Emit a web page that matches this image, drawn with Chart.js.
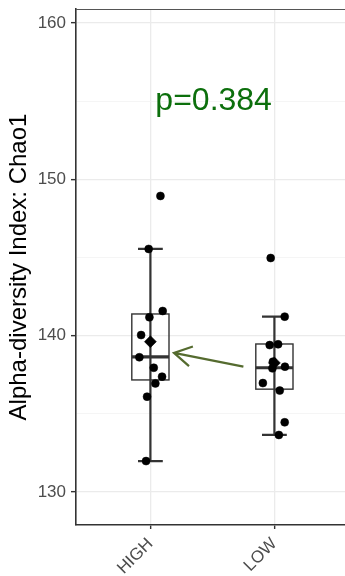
<!DOCTYPE html>
<html><head><meta charset="utf-8">
<script src="https://cdn.jsdelivr.net/npm/chart.js@4/dist/chart.umd.min.js"></script>
<style>html,body{margin:0;padding:0;background:#fff;overflow:hidden}#wrap{width:345px;height:576px;position:relative}</style>
</head><body><div id="wrap"><canvas id="c" width="345" height="576"></canvas></div>
<script>
// ---- data ----
const categories = ['HIGH', 'LOW'];
const highX = [1.081, 0.986, 1.099, 0.992, 0.925, 0.911, 1.027, 1.094, 1.040, 0.973, 0.965];
const highY = [148.94, 145.55, 141.58, 141.18, 140.04, 138.62, 137.95, 137.38, 136.95, 136.10, 131.98];
const lowX = [1.970, 2.083, 2.030, 1.962, 1.988, 2.085, 1.984, 1.907, 2.043, 2.083, 2.036];
const lowY = [144.97, 141.22, 139.45, 139.40, 138.34, 138.02, 137.91, 136.97, 136.49, 134.46, 133.65];
const boxQ1 = [137.17, 136.58];
const boxMedian = [138.64, 137.95];
const boxQ3 = [141.39, 139.47];
const whiskerLow = [131.98, 133.65];
const whiskerHigh = [145.55, 141.22];
const groupMeans = [139.62, 138.26];
const yTicks = [130, 135, 140, 145, 150, 155, 160];
const yMajor = [130, 140, 150, 160];
const arrowFrom = [1.75, 138.02];
const arrowTo = [1.19, 138.90];
const pLabel = 'p=0.384';
const pLabelPos = [1.51, 155];
const yTitle = 'Alpha-diversity Index: Chao1';

const FONT = '"Liberation Sans", Arial, Helvetica, sans-serif';
const toPts = (xs, ys) => xs.map((x, i) => ({x, y: ys[i]}));

const boxPlugin = {
  id: 'boxes',
  beforeDatasetsDraw(chart) {
    const {ctx, scales: {x, y}, chartArea} = chart;
    ctx.save();
    // top panel border
    ctx.strokeStyle = '#555';
    ctx.lineWidth = 1.2;
    ctx.beginPath();
    ctx.moveTo(chartArea.left, chartArea.top + 0.5);
    ctx.lineTo(chartArea.right, chartArea.top + 0.5);
    ctx.stroke();
    categories.forEach((c, i) => {
      const cx = x.getPixelForValue(i + 1);
      const bw = x.getPixelForValue(i + 1 + 0.15) - cx;
      const cw = x.getPixelForValue(i + 1 + 0.1) - cx;
      const q1 = y.getPixelForValue(boxQ1[i]);
      const q3 = y.getPixelForValue(boxQ3[i]);
      const md = y.getPixelForValue(boxMedian[i]);
      const wl = y.getPixelForValue(whiskerLow[i]);
      const wh = y.getPixelForValue(whiskerHigh[i]);
      ctx.strokeStyle = '#333';
      ctx.lineWidth = 1.4;
      ctx.strokeRect(cx - bw, q3, 2 * bw, q1 - q3);
      ctx.lineWidth = 2.2;
      ctx.beginPath();
      ctx.moveTo(cx, wl); ctx.lineTo(cx, wh);
      ctx.moveTo(cx - cw, wl); ctx.lineTo(cx + cw, wl);
      ctx.moveTo(cx - cw, wh); ctx.lineTo(cx + cw, wh);
      ctx.stroke();
      ctx.lineWidth = 3.2;
      ctx.beginPath();
      ctx.moveTo(cx - bw, md); ctx.lineTo(cx + bw, md);
      ctx.stroke();
    });
    ctx.restore();
  },
  afterDatasetsDraw(chart) {
    const {ctx, scales: {x, y}} = chart;
    ctx.save();
    // arrow
    const x0 = x.getPixelForValue(arrowFrom[0]), y0 = y.getPixelForValue(arrowFrom[1]);
    const x1 = x.getPixelForValue(arrowTo[0]), y1 = y.getPixelForValue(arrowTo[1]);
    ctx.strokeStyle = '#556B2F';
    ctx.lineWidth = 2.2;
    ctx.lineCap = 'butt';
    ctx.beginPath();
    ctx.moveTo(x0, y0); ctx.lineTo(x1, y1);
    const ang = Math.atan2(y0 - y1, x0 - x1);
    const L = 20, a = Math.PI / 6;
    ctx.moveTo(x1 + L * Math.cos(ang - a), y1 + L * Math.sin(ang - a));
    ctx.lineTo(x1, y1);
    ctx.lineTo(x1 + L * Math.cos(ang + a), y1 + L * Math.sin(ang + a));
    ctx.stroke();
    // p-value text
    ctx.fillStyle = '#0c6f0c';
    ctx.font = '32px ' + FONT;
    ctx.textAlign = 'center';
    ctx.textBaseline = 'middle';
    ctx.fillText(pLabel, x.getPixelForValue(pLabelPos[0]), y.getPixelForValue(pLabelPos[1]));
    ctx.restore();
  }
};

new Chart(document.getElementById('c'), {
  type: 'scatter',
  data: {
    datasets: [
      {label: 'mean', data: groupMeans.map((m, i) => ({x: i + 1, y: m})),
        pointStyle: 'rectRot', pointRadius: 6, backgroundColor: '#000', borderColor: '#000', borderWidth: 0.5},
      {label: 'HIGH', data: toPts(highX, highY), pointRadius: 4, backgroundColor: '#000', borderColor: '#000', borderWidth: 0.5},
      {label: 'LOW', data: toPts(lowX, lowY), pointRadius: 4, backgroundColor: '#000', borderColor: '#000', borderWidth: 0.5}
    ]
  },
  options: {
    responsive: false,
    animation: false,
    devicePixelRatio: 1,
    layout: {autoPadding: false, padding: {top: 9, right: 0, bottom: 0, left: 0}},
    plugins: {legend: {display: false}, tooltip: {enabled: false}},
    scales: {
      x: {
        type: 'linear', min: 0.4, max: 0.4 + (345 - 76) / 124,
        afterBuildTicks: s => { s.ticks = categories.map((c, i) => ({value: i + 1})); },
        afterFit: s => { s.height = 51; s.paddingLeft = 0; s.paddingRight = 0; s.paddingTop = 0; s.paddingBottom = 0; },
        ticks: {
          callback: v => categories[v - 1] || '',
          minRotation: 45, maxRotation: 45, autoSkip: false,
          color: '#4D4D4D', font: {family: FONT, size: 17}, padding: 5
        },
        grid: {color: '#EBEBEB', lineWidth: 1.3, tickColor: '#333', tickLength: 4, tickWidth: 1.4},
        border: {color: '#333', width: 1.6}
      },
      y: {
        type: 'linear', min: 127.89, max: 160.9,
        afterBuildTicks: s => { s.ticks = yTicks.map(v => ({value: v})); },
        afterFit: s => { s.width = 76; s.paddingLeft = 0; s.paddingRight = 0; s.paddingTop = 0; s.paddingBottom = 0; },
        ticks: {
          callback: v => yMajor.includes(v) ? String(v) : '',
          color: '#4D4D4D', font: {family: FONT, size: 17}, padding: 5
        },
        grid: {
          color: c => yMajor.includes(c.tick && c.tick.value) ? '#EBEBEB' : '#F2F2F2',
          lineWidth: c => yMajor.includes(c.tick && c.tick.value) ? 1.3 : 0.8,
          tickColor: c => yMajor.includes(c.tick && c.tick.value) ? '#333' : 'rgba(0,0,0,0)',
          tickLength: 5, tickWidth: 1.4
        },
        border: {color: '#333', width: 1.6},
        title: {display: true, text: yTitle, color: '#000', font: {family: FONT, size: 24}, padding: {top: 5, bottom: 0}}
      }
    }
  },
  plugins: [boxPlugin]
});
</script></body></html>
